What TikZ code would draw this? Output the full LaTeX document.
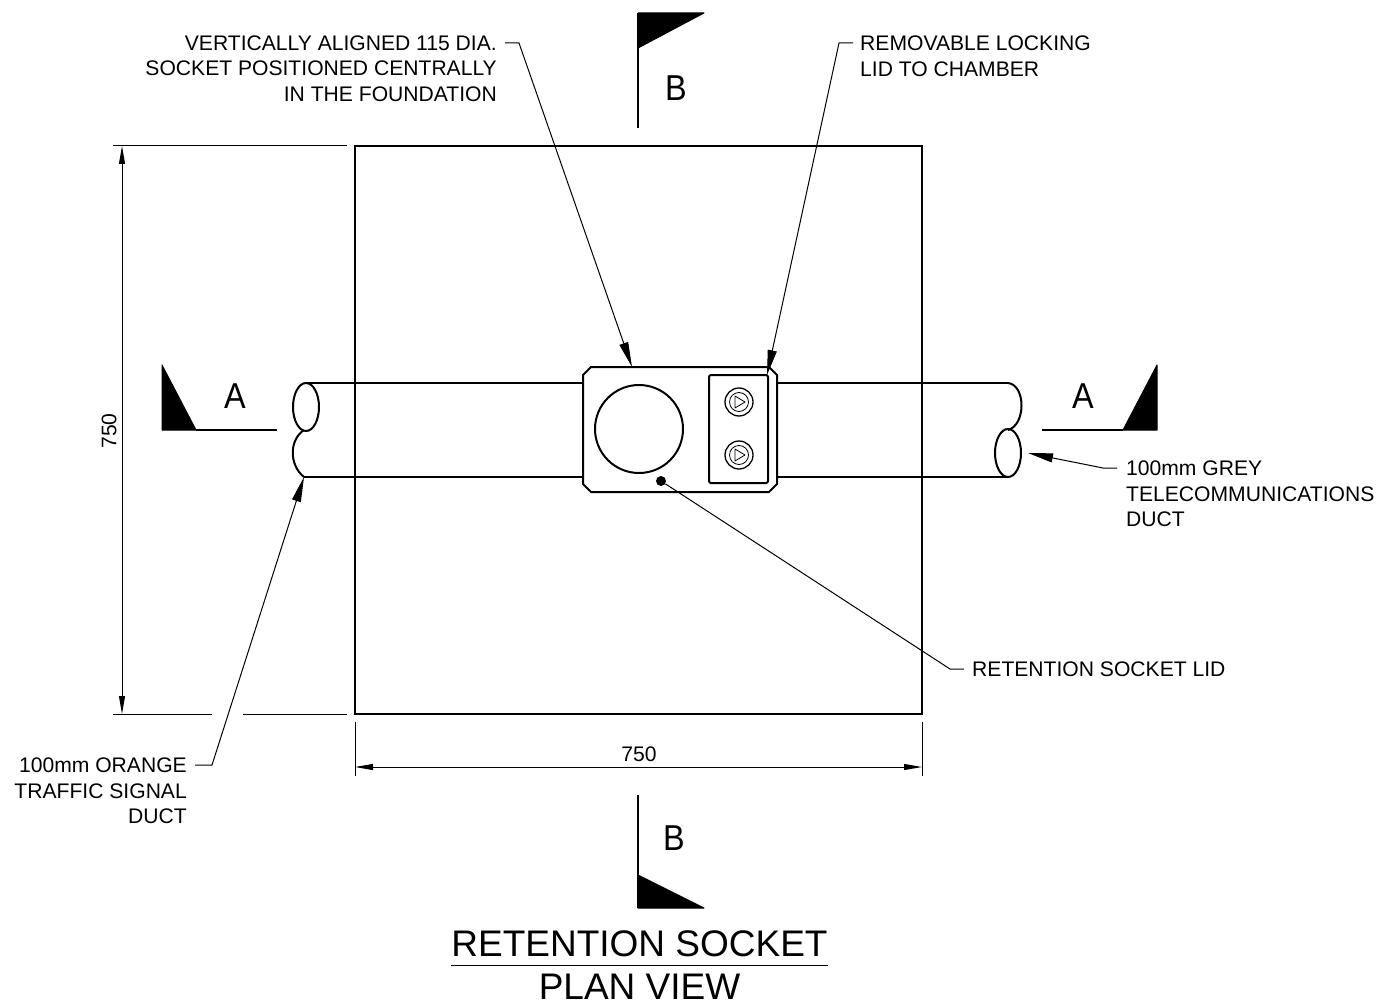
\documentclass[tikz,border=0pt]{standalone}
\usepackage{fontspec}
\setmainfont{Liberation Sans}
\newfontfamily\letterfont[FakeStretch=0.9]{Liberation Sans}
\usepackage{tikz}
\usetikzlibrary{arrows.meta, shapes.geometric}

\tikzset{
    heavy/.style={line width=2pt, line join=round},
    thin line/.style={line width=1pt},
    leader/.style={thin line, -{Triangle[length=25pt,width=9pt]}},
    dimension/.style={thin line, {Triangle[length=18pt,width=6pt]}-{Triangle[length=18pt,width=6pt]}},
    note/.style={inner sep=0pt, font=\fontsize{21.1}{25.5}\selectfont},
    section letter/.style={inner sep=0pt, font=\letterfont\fontsize{36}{40}\selectfont},
    title/.style={inner sep=0pt, font=\fontsize{37}{42}\selectfont},
    flag/.style={fill=black, draw=black, line width=1pt, line join=round},
    bolt/.style={circle, draw, line width=1.3pt, minimum size=28pt, inner sep=0pt},
}

\begin{document}
\begin{tikzpicture}[x=1pt, y=-1pt]
        \useasboundingbox (0, 0) rectangle (1379, 1006);

        % foundation
        \node[draw, line width=2.6pt, minimum width=567pt, minimum height=568pt, inner sep=0pt, outer sep=0pt] (slab) at (638.5, 430) {};

        % ducts
        \draw[heavy] (306, 383) to (583, 383);
        \draw[heavy] (304, 477) to (583, 477);
        \draw[heavy] (778, 383) to (1008, 383);
        \draw[heavy] (778, 477) to (1008, 477);
        \node[ellipse, draw, heavy, minimum width=26pt, minimum height=48pt, inner sep=0pt, fill=white] (orange end) at (306, 407) {};
        \node[ellipse, draw, heavy, minimum width=26pt, minimum height=48pt, inner sep=0pt, fill=white] (grey end) at (1008, 453) {};
        \draw[heavy] (304, 430) .. controls (289, 440) and (289, 465) .. (304, 477);
        \draw[heavy] (1008, 383) .. controls (1026, 385) and (1026, 425) .. (1008, 430);

        % lid and socket
        \draw[heavy, fill=white] (591, 367) -- (769, 367) -- (777, 375) -- (777, 484) -- (769, 492)
            -- (591, 492) -- (583, 484) -- (583, 375) -- cycle;
        \node[circle, draw, heavy, minimum size=88pt, inner sep=0pt] (socket) at (639, 429) {};
        \node[rectangle, rounded corners=2pt, draw, heavy, minimum width=59pt, minimum height=108pt, inner sep=0pt] (chamber) at (738.5, 429) {};
        \node[circle, fill=black, minimum size=10pt, inner sep=0pt] (pin) at (661, 481) {};
        \foreach \name/\y in {upper/402, lower/455} {
            \node[bolt] (\name) at (739, \y) {};
            \node[circle, draw, line width=0.8pt, minimum size=19pt, inner sep=0pt] at (739, \y) {};
            \draw[line width=0.8pt, line join=round] (735, \y-6) -- (745, \y) -- (735, \y+6) -- cycle;
        }

        % sections
        \coordinate (a1) at (196, 430);
        \coordinate (a1end) at (277, 430);
        \draw[flag] (162, 365) -- (162, 430) -- (a1) -- cycle;
        \draw[heavy] (a1) to (a1end);
        \node[section letter] (a1label) at (235, 396) {A};

        \coordinate (a2) at (1123, 430);
        \coordinate (a2end) at (1042, 430);
        \draw[flag] (1157, 365) -- (1157, 430) -- (a2) -- cycle;
        \draw[heavy] (a2) to (a2end);
        \node[section letter] (a2label) at (1083, 396) {A};

        \coordinate (b1) at (638, 13);
        \coordinate (b1end) at (638, 128);
        \draw[flag] (b1) -- (704, 13) -- (638, 48) -- cycle;
        \draw[heavy] (b1) to (b1end);
        \node[section letter] (b1label) at (676, 88) {B};

        \coordinate (b2) at (638, 908);
        \coordinate (b2end) at (638, 795);
        \draw[flag] (b2) -- (704, 908) -- (638, 875) -- cycle;
        \draw[heavy] (b2) to (b2end);
        \node[section letter] (b2label) at (674, 838) {B};

        % dimensions
        \coordinate (top) at (122, 146);
        \coordinate (bottom) at (122, 714);
        \coordinate (left) at (355, 767);
        \coordinate (right) at (922, 767);
        \draw[thin line] (113, 146) to (347, 146);
        \draw[thin line] (113, 714) to (212, 714);
        \draw[thin line] (243, 714) to (347, 714);
        \draw[thin line] (355, 722) to (355, 776);
        \draw[thin line] (922, 722) to (922, 776);
        \draw[dimension] (top) to (bottom);
        \draw[dimension] (left) to (right);
        \node[note, rotate=90] (height) at (109, 431) {750};
        \node[note] (width) at (639, 754) {750};

        % notes
        \node[note, anchor=east, align=right] (socket note) at (497, 68.5) {VERTICALLY ALIGNED 115 DIA.\\SOCKET POSITIONED CENTRALLY\\IN THE FOUNDATION};
        \coordinate (socket tip) at (632, 367);
        \draw[leader] (505, 43) -- (519, 43) -- (socket tip);

        \node[note, anchor=west, align=left] (lock note) at (860, 56) {REMOVABLE LOCKING\\LID TO CHAMBER};
        \coordinate (lock tip) at (767, 375);
        \draw[leader] (853, 43) -- (839, 43) -- (lock tip);

        \node[note, anchor=west, align=left] (grey note) at (1126, 494) {100mm GREY\\TELECOMMUNICATIONS\\DUCT};
        \draw[leader] (1117, 468) -- (1103, 468) -- (1028, 453);

        \node[note, anchor=west] (pin note) at (972, 669.5) {RETENTION SOCKET LID};
        \draw[thin line] (964, 669) -- (950, 669) -- (pin);

        \node[note, anchor=east, align=right] (orange note) at (187, 791) {100mm ORANGE\\TRAFFIC SIGNAL\\DUCT};
        \draw[leader] (195, 765) -- (212, 765) -- (304, 477);

        % title
        \node[title] (title) at (639.5, 944) {RETENTION SOCKET};
        \node[title] (subtitle) at (639.5, 987) {PLAN VIEW};
        \draw[thin line] (451, 965) to (828, 965);
    \end{tikzpicture}
\end{document}
